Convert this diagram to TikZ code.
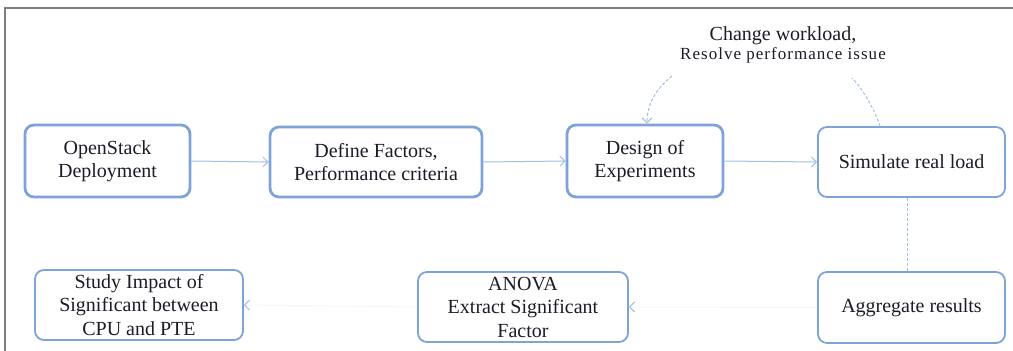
\documentclass[tikz,border=0pt]{standalone}
\usepackage{fontspec}
\setmainfont{Liberation Serif}
\usetikzlibrary{arrows.meta}
\definecolor{boxblue}{HTML}{7DA3D8}
\definecolor{linkblue}{HTML}{A3BFE6}
\definecolor{faintblue}{HTML}{F3F7FC}
\definecolor{framegray}{HTML}{7F7F7F}
\definecolor{ink}{HTML}{1C1C28}
\begin{document}
\begin{tikzpicture}[x=1pt,y=-1pt,
  stage/.style={draw=boxblue, rounded corners=9pt, align=center, inner sep=0pt,
    text=ink, font=\fontsize{20}{23.5}\selectfont},
  heavy/.style={line width=2.8pt},
  light/.style={line width=1.8pt},
  tip/.style={Straight Barb[length=5pt,width=10pt,color=linkblue]},
  flow/.style={draw=linkblue, line width=1pt, -{Straight Barb[length=5pt,width=10pt]}},
  ghost/.style={draw=faintblue, line width=1pt, -{Straight Barb[length=5pt,width=10pt,color=linkblue]}},
  feedback/.style={draw=linkblue, line width=1pt, dashed, dash pattern=on 3pt off 2pt},
]
% canvas and frame
\useasboundingbox (0,0) rectangle (1013,351);
\fill[white] (0,0) rectangle (1013,351);
\draw[framegray, line width=2pt] (5,351) -- (5,8) -- (1013,8);

% process stages
\node[stage, heavy, minimum width=165pt, minimum height=72pt] (open) at (107.5,161)
  {OpenStack\\Deployment};
\node[stage, heavy, minimum width=212pt, minimum height=70pt] (define) at (376,162)
  {Define Factors,\\Performance criteria};
\node[stage, heavy, minimum width=156pt, minimum height=72pt] (design) at (645,161)
  {Design of\\Experiments};
\node[stage, light, minimum width=187pt, minimum height=70pt] (sim) at (911.5,162)
  {Simulate real load};
\node[stage, light, minimum width=187pt, minimum height=71pt] (agg) at (911.5,307.5)
  {Aggregate results};
\node[stage, light, minimum width=210pt, minimum height=70pt] (anova) at (523,307)
  {ANOVA\\Extract Significant\\Factor};
\node[stage, light, minimum width=208pt, minimum height=70pt] (study) at (139,305)
  {Study Impact of\\Significant between\\CPU and PTE};

% feedback label
\node[align=center, inner sep=0pt, text=ink] (lbl) at (783,45)
  {{\fontsize{20}{23}\selectfont Change workload,}\\[1pt]
   {\fontsize{17}{20}\selectfont\addfontfeature{LetterSpace=6}Resolve performance issue}};
\coordinate (fbL) at (672,76);
\coordinate (fbR) at (852,78);

% main flow
\draw[flow] (open.east) -- (define.west);
\draw[flow] (define.east) -- (design.west);
\draw[flow] (design.east) -- (sim.east -| sim.west);
\draw[feedback] ([xshift=-4.5pt]sim.south) -- ([xshift=-4.5pt]agg.north);
\draw[ghost] (agg.west) -- (anova.east);
\draw[ghost] (anova.west) -- (study.east);

% feedback loop
\draw[feedback] ([xshift=-31.5pt]sim.north) .. controls (874,108) and (862,88) .. (fbR);
\draw[feedback, -{Straight Barb[length=5pt,width=10pt]}] (fbL) .. controls (660,86) and (647,100) .. ([xshift=2pt]design.north);
\end{tikzpicture}
\end{document}
